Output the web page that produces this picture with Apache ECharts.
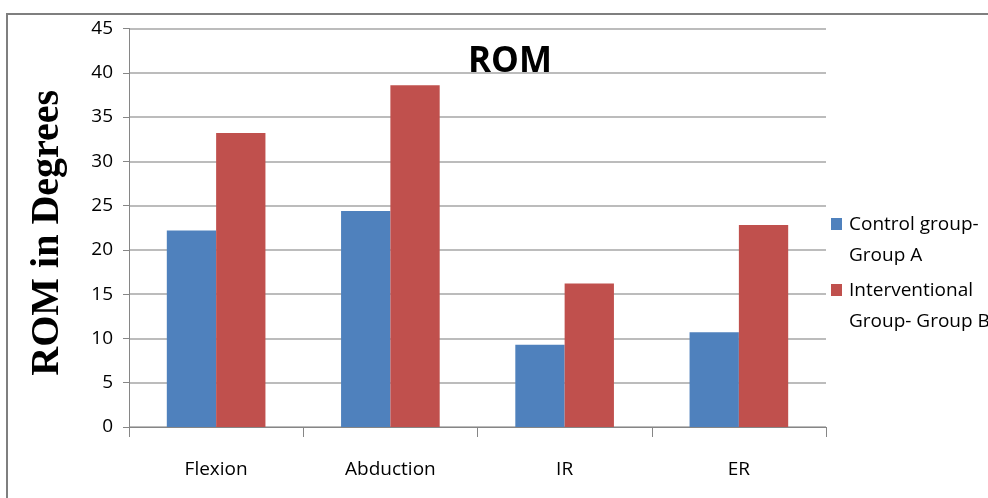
<!DOCTYPE html>
<html>
<head>
<meta charset="utf-8">
<script src="https://cdn.jsdelivr.net/npm/echarts@6/dist/echarts.min.js"></script>
<style>
  html, body { margin: 0; padding: 0; background: #fff; }
  #chart { width: 988px; height: 498px; }
</style>
</head>
<body>
<div id="chart"></div>
<script>
// Range of motion by movement, two groups
const categories = ['Flexion', 'Abduction', 'IR', 'ER'];
const controlGroupA = [22.2, 24.4, 9.3, 10.7];
const interventionalGroupB = [33.2, 38.6, 16.2, 22.8];
const seriesNames = ['Control group-\nGroup A', 'Interventional\nGroup- Group B'];
const seriesColors = ['#4f81bd', '#c0504d'];
const yTicks = { min: 0, max: 45, interval: 5 };

const labelFont = '"Open Sans", sans-serif';

const chart = echarts.init(document.getElementById('chart'), null, { renderer: 'canvas' });

const legendItems = [];
seriesNames.forEach((name, i) => {
  const top = 217 + i * 66;
  legendItems.push({
    type: 'rect',
    shape: { x: 831, y: top + 1, width: 11, height: 12 },
    style: { fill: seriesColors[i] }
  });
  legendItems.push({
    type: 'text',
    x: 849, y: top - 8,
    style: {
      text: name,
      font: '19px ' + labelFont,
      fill: '#000',
      lineHeight: 31
    }
  });
});

chart.setOption({
  animation: false,
  backgroundColor: '#fff',
  title: {
    text: 'ROM',
    left: 505, top: 40,
    textAlign: 'center',
    textStyle: { fontSize: 35, fontWeight: 'bold', fontFamily: labelFont, color: '#000' }
  },
  grid: { left: 129, right: 162, top: 28.5, bottom: 71 },
  xAxis: {
    type: 'category',
    data: categories,
    axisLine: { lineStyle: { color: '#868686', width: 1 } },
    axisTick: { show: true, length: 10, lineStyle: { color: '#868686' } },
    axisLabel: { margin: 33, fontSize: 19, fontFamily: labelFont, color: '#000' }
  },
  yAxis: {
    type: 'value',
    min: yTicks.min, max: yTicks.max, interval: yTicks.interval,
    name: 'ROM in Degrees',
    nameLocation: 'middle',
    nameGap: 61,
    nameTextStyle: { fontSize: 40, fontWeight: 'bold', fontFamily: '"Liberation Serif", serif', color: '#000', padding: [0, 10, 0, 0] },
    axisLine: { show: true, lineStyle: { color: '#868686' } },
    axisTick: { show: true, length: 6, lineStyle: { color: '#868686' } },
    splitLine: { lineStyle: { color: '#a6a6a6', width: 1.5 } },
    axisLabel: { margin: 16, fontSize: 19, fontFamily: labelFont, color: '#000' }
  },
  series: [
    {
      name: seriesNames[0], type: 'bar', data: controlGroupA,
      barWidth: '28.3%', barGap: '0%',
      itemStyle: { color: seriesColors[0] }
    },
    {
      name: seriesNames[1], type: 'bar', data: interventionalGroupB,
      barWidth: '28.3%', barGap: '0%',
      itemStyle: { color: seriesColors[1] }
    }
  ],
  graphic: [
    // page frame around the chart
    { type: 'polyline', shape: { points: [[7, 498], [7, 14], [988, 14]] },
      style: { stroke: '#7f7f7f', lineWidth: 2, fill: null } }
  ].concat(legendItems)
});
</script>
</body>
</html>
